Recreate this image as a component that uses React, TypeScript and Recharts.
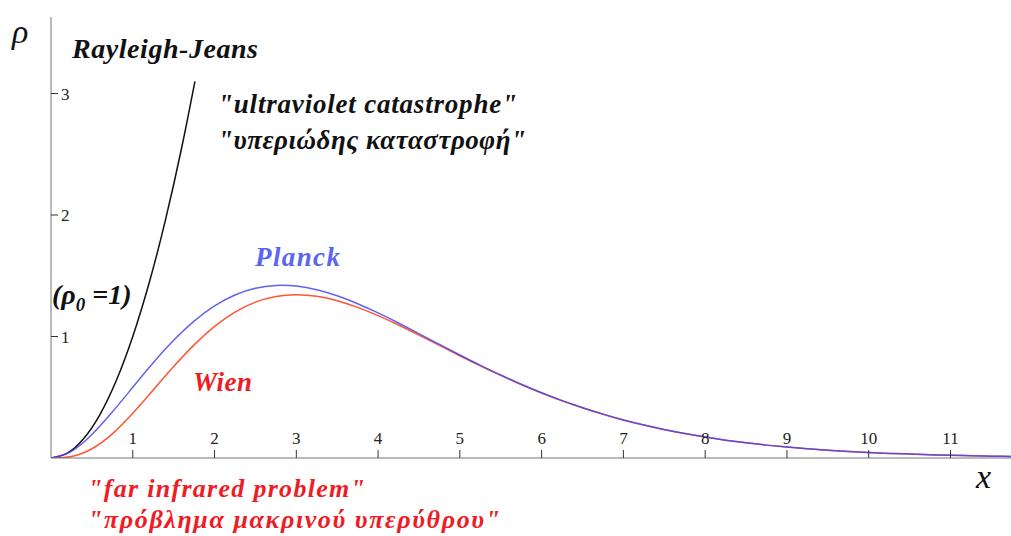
import { LineChart, Line, XAxis, YAxis } from 'recharts';

// dimensionless spectral density rho(x)
const xPlanck = [0, 0.25, 0.5, 0.75, 1, 1.25, 1.5, 1.75, 2, 2.25, 2.5, 2.75, 3, 3.25, 3.5, 3.75, 4, 4.25, 4.5, 4.75, 5, 5.25, 5.5, 5.75, 6, 6.25, 6.5, 6.75, 7, 7.25, 7.5, 7.75, 8, 8.25, 8.5, 8.75, 9, 9.25, 9.5, 9.75, 10, 10.25, 10.5, 10.75, 11, 11.25, 11.5, 11.75];
const planckValues = [0, 0.055, 0.193, 0.378, 0.582, 0.784, 0.969, 1.127, 1.252, 1.342, 1.397, 1.420, 1.415, 1.385, 1.335, 1.270, 1.194, 1.111, 1.024, 0.935, 0.848, 0.763, 0.683, 0.607, 0.537, 0.472, 0.414, 0.361, 0.313, 0.271, 0.234, 0.201, 0.172, 0.147, 0.125, 0.106, 0.090, 0.076, 0.064, 0.054, 0.045, 0.038, 0.032, 0.027, 0.022, 0.019, 0.015, 0.013];
const wienValues = [0, 0.012, 0.076, 0.199, 0.368, 0.560, 0.753, 0.931, 1.083, 1.201, 1.283, 1.330, 1.344, 1.331, 1.295, 1.240, 1.172, 1.095, 1.012, 0.927, 0.842, 0.759, 0.680, 0.605, 0.535, 0.471, 0.413, 0.360, 0.313, 0.271, 0.233, 0.201, 0.172, 0.147, 0.125, 0.106, 0.090, 0.076, 0.064, 0.054, 0.045, 0.038, 0.032, 0.027, 0.022, 0.019, 0.015, 0.013];
const xRayleigh = [0, 0.2, 0.4, 0.6, 0.8, 1.0, 1.2, 1.4, 1.6, 1.76];
const rayleighValues = [0, 0.04, 0.16, 0.36, 0.64, 1.0, 1.44, 1.96, 2.56, 3.1];

const xTicks = [1, 2, 3, 4, 5, 6, 7, 8, 9, 10, 11];
const yTicks = [1, 2, 3];

const planckData = xPlanck.map((x, i) => ({ x, rho: planckValues[i] }));
const wienData = xPlanck.map((x, i) => ({ x, rho: wienValues[i] }));
const rayleighData = xRayleigh.map((x, i) => ({ x, rho: rayleighValues[i] }));

const serif = '"Liberation Serif", "Times New Roman", serif';
const tickFont = { fontFamily: serif, fontSize: 17, fill: '#222' };

const Label = ({ x, y, w, size, color, children }: any) => (
  <text
    x={x}
    y={y}
    textLength={w}
    lengthAdjust="spacing"
    fontFamily={serif}
    fontStyle="italic"
    fontWeight="bold"
    fontSize={size}
    fill={color}
  >
    {children}
  </text>
);

export default function App() {
  return (
    <div style={{ position: 'relative', width: 1011, height: 536, background: '#fff' }}>
      <style>{'body{margin:0}'}</style>
      <LineChart width={1011} height={536} margin={{ top: 17, right: 0, bottom: 78, left: 51 }}>
        <XAxis
          type="number"
          dataKey="x"
          domain={[0, 11.74]}
          allowDataOverflow
          ticks={xTicks}
          mirror
          tickSize={8}
          tickMargin={6}
          axisLine={{ stroke: '#777' }}
          tickLine={{ stroke: '#333' }}
          tick={tickFont}
        />
        <YAxis
          type="number"
          dataKey="rho"
          domain={[0, 3.63]}
          allowDataOverflow
          ticks={yTicks}
          mirror
          tickSize={7}
          tickMargin={3}
          axisLine={{ stroke: '#777' }}
          tickLine={{ stroke: '#333' }}
          tick={tickFont}
        />
        <Line data={rayleighData} dataKey="rho" type="natural" stroke="#111" strokeWidth={1.5} dot={false} isAnimationActive={false} />
        <Line data={wienData} dataKey="rho" type="natural" stroke="#ff5533" strokeWidth={1.5} dot={false} isAnimationActive={false} />
        <Line data={planckData} dataKey="rho" type="natural" stroke="#4646f0" strokeWidth={1.5} strokeOpacity={0.85} dot={false} isAnimationActive={false} />
      </LineChart>
      <svg width={1011} height={536} style={{ position: 'absolute', left: 0, top: 0, pointerEvents: 'none' }}>
        <text x={12} y={43} fontFamily={serif} fontStyle="italic" fontSize={34} fill="#111">ρ</text>
        <Label x={72} y={58} w={186} size={28} color="#111">Rayleigh-Jeans</Label>
        <Label x={218} y={113} w={299} size={27} color="#111">"ultraviolet catastrophe"</Label>
        <Label x={218} y={149} w={308} size={27} color="#111">"υπεριώδης καταστροφή"</Label>
        <Label x={255} y={266} w={85} size={27} color="#5a66f0">Planck</Label>
        <text x={52} y={304} fontFamily={serif} fontStyle="italic" fontWeight="bold" fontSize={28} fill="#111">
          (ρ<tspan fontSize={19} dy={7}>0</tspan><tspan dy={-7}> =1)</tspan>
        </text>
        <Label x={193} y={391} w={59} size={27} color="#ee1c24">Wien</Label>
        <Label x={88} y={497} w={277} size={26} color="#ee1c24">"far infrared problem"</Label>
        <Label x={88} y={528} w={412} size={26} color="#ee1c24">"πρόβλημα μακρινού υπερύθρου"</Label>
        <text x={976} y={488} fontFamily={serif} fontStyle="italic" fontSize={34} fill="#111">x</text>
      </svg>
    </div>
  );
}
